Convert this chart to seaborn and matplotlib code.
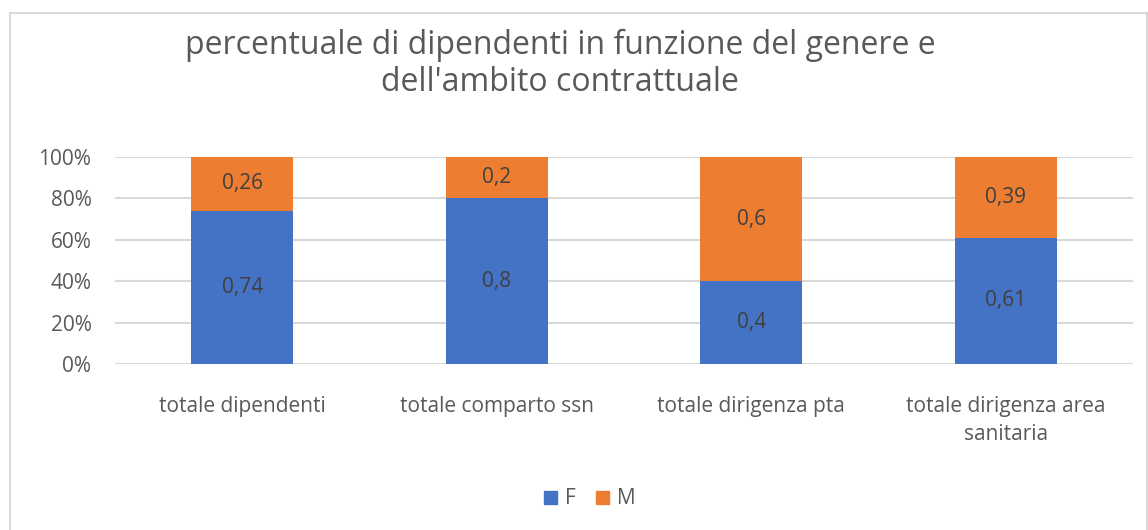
import matplotlib
matplotlib.use("Agg")
import matplotlib.pyplot as plt
import matplotlib.patches as mpatches
import seaborn as sns

categories = ["totale dipendenti", "totale comparto ssn", "totale dirigenza pta",
              "totale dirigenza area\nsanitaria"]
female = [0.74, 0.8, 0.4, 0.61]
male = [0.26, 0.2, 0.6, 0.39]
y_ticks = [0, 0.2, 0.4, 0.6, 0.8, 1.0]
y_tick_labels = ["0%", "20%", "40%", "60%", "80%", "100%"]

BLUE = "#4472C4"
ORANGE = "#ED7D31"
TEXT = "#595959"

sns.set_style("white")
plt.rcParams['font.family'] = ['Open Sans', 'DejaVu Sans']

fig = plt.figure(figsize=(11.48, 5.30), dpi=100)
ax = fig.add_axes([115 / 1148, 1 - 364 / 530, (1133 - 115) / 1148, (364 - 157) / 530])

# outer chart frame
fig.patches.append(mpatches.Rectangle((9.5 / 1148, -0.01), 1137 / 1148, (530 - 12.5) / 530 + 0.01,
                                      transform=fig.transFigure, fill=False,
                                      edgecolor="#D9D9D9", linewidth=1.5))

totals = [f + m for f, m in zip(female, male)]
sns.barplot(x=categories, y=totals, color=ORANGE, width=0.4, ax=ax, saturation=1,
            linewidth=0, zorder=3)
sns.barplot(x=categories, y=female, color=BLUE, width=0.4, ax=ax, saturation=1,
            linewidth=0, zorder=3)

for i, (f, m) in enumerate(zip(female, male)):
    ax.text(i, f / 2, f"{f:g}".replace(".", ","), ha="center", va="center",
            fontsize=15, color="#404040", zorder=4)
    ax.text(i, f + m / 2, f"{m:g}".replace(".", ","), ha="center", va="center",
            fontsize=15, color="#404040", zorder=4)

ax.set_ylim(0, 1.0)
ax.set_xlim(-0.5, 3.5)
ax.set_yticks(y_ticks)
ax.set_yticklabels(y_tick_labels)
ax.yaxis.grid(True, color="#D9D9D9", linewidth=1.5, zorder=0)
ax.set_axisbelow(True)
for s in ax.spines.values():
    s.set_visible(False)
ax.tick_params(axis="y", length=0, pad=17, labelsize=15, labelcolor=TEXT)
ax.tick_params(axis="x", length=0, pad=23, labelsize=15, labelcolor=TEXT)
for lbl in ax.get_xticklabels():
    lbl.set_linespacing(1.45)
ax.set_xlabel("")
ax.set_ylabel("")

fig.text(560 / 1148, 1 - 64 / 530, "percentuale di dipendenti in funzione del genere e\ndell'ambito contrattuale",
         ha="center", va="center", fontsize=23, color=TEXT, linespacing=1.15)

handles = [mpatches.Patch(color=BLUE, label="F"), mpatches.Patch(color=ORANGE, label="M")]
fig.legend(handles=handles, loc="center", bbox_to_anchor=(590 / 1148, 1 - 499 / 530), ncol=2,
           frameon=False, fontsize=15, labelcolor=TEXT, handlelength=0.6, handleheight=0.6,
           handletextpad=0.4, columnspacing=1.0)

fig.savefig("out.png", dpi=100)
